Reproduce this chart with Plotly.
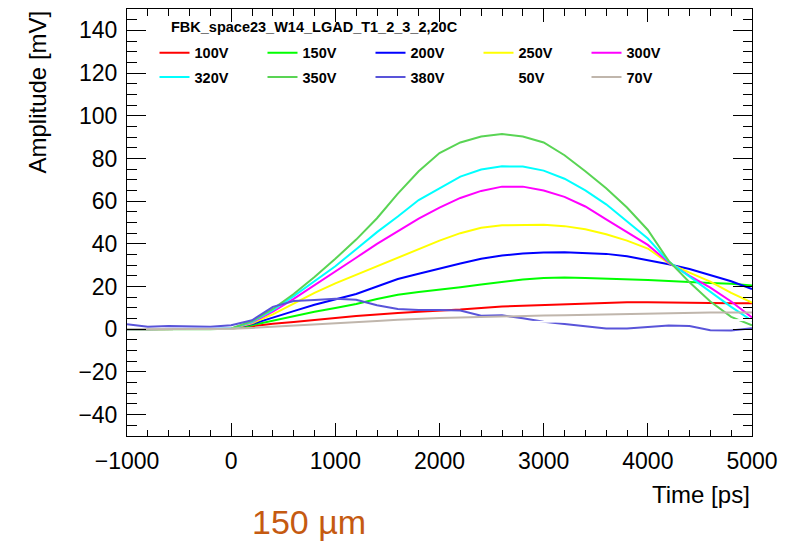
import plotly.graph_objects as go

# Sampling times of the averaged waveforms [ps]
time_ps = [-1000, -800, -600, -400, -200, 0, 200, 400, 600, 800, 1000,
           1200, 1400, 1600, 1800, 2000, 2200, 2400, 2600, 2800, 3000,
           3200, 3400, 3600, 3800, 4000, 4200, 4400, 4600, 4800, 5000]

# Amplitude [mV] for each bias voltage
amp_100v = [0, 0, 0, 0, 0, 0.2, 1.4, 2.6, 3.4, 4.2, 5.3, 6.2, 7.0, 7.6, 8.2, 8.6,
            9.2, 10.0, 10.7, 11.0, 11.3, 11.7, 12.1, 12.5, 12.6, 12.6, 12.6, 12.5,
            12.3, 12.2, 12.2]
amp_150v = [0, 0, 0, 0, 0, 0.2, 1.9, 4.0, 6.3, 8.2, 10.0, 11.8, 14.2, 16.2, 17.5,
            18.5, 19.7, 21.0, 22.3, 23.3, 24.0, 24.2, 24.0, 23.8, 23.4, 23.1, 22.6,
            22.0, 21.7, 21.3, 20.5]
amp_200v = [0, 0, 0, 0, 0, 0.2, 2.4, 5.6, 8.5, 11.5, 14.0, 16.5, 20.0, 23.5, 26.0,
            28.5, 30.8, 33.0, 34.5, 35.5, 36.0, 36.1, 35.8, 35.3, 34.2, 32.4, 30.4,
            28.2, 25.5, 22.5, 18.8]
amp_250v = [0, 0, 0, 0, 0, 0.2, 2.8, 7.0, 12.0, 17.0, 21.5, 25.5, 29.5, 33.5, 37.8,
            41.5, 45.0, 47.5, 48.7, 49.0, 49.0, 48.3, 46.8, 44.5, 41.5, 37.8, 31.0,
            26.5, 22.3, 17.0, 12.5]
amp_300v = [0, 0, 0, 0, 0, 0.3, 3.2, 8.3, 14.2, 20.5, 27.0, 33.5, 40.0, 46.0, 51.8,
            57.0, 61.5, 64.8, 66.8, 66.8, 65.0, 62.0, 57.5, 51.5, 45.5, 39.5, 31.3,
            25.0, 19.5, 13.0, 5.5]
amp_320v = [0, 0, 0, 0, 0, 0.3, 3.5, 9.0, 15.5, 22.5, 29.5, 37.5, 45.5, 52.8, 60.5,
            66.0, 71.5, 74.8, 76.3, 76.2, 74.3, 70.5, 65.0, 58.5, 50.5, 42.5, 31.7,
            24.5, 17.5, 10.5, 4.0]
amp_350v = [0, 0, 0, 0, 0, 0.4, 3.8, 9.5, 16.5, 24.5, 33.0, 42.0, 52.0, 63.5, 74.0,
            82.5, 87.5, 90.3, 91.4, 90.3, 87.5, 81.5, 74.0, 66.0, 57.0, 46.5, 32.0,
            22.0, 13.0, 5.8, 1.8]
amp_380v = [2.3, 1.2, 1.5, 1.5, 1.2, 1.9, 4.2, 10.5, 13.2, 13.7, 14.3, 13.8, 11.2,
            9.5, 9.0, 9.0, 8.8, 6.3, 6.5, 5.2, 3.5, 2.5, 1.5, 0.4, 0.3, 1.2, 1.8,
            1.5, -0.5, -0.6, 0.5]
amp_50v = [0, 0, 0, 0, 0, 0, 0.3, 0.7, 1.0, 1.2, 1.5, 1.8, 2.1, 2.4, 2.7, 2.9, 3.0,
           3.2, 3.3, 3.4, 3.5, 3.6, 3.7, 3.8, 3.9, 4.0, 4.1, 4.1, 4.2, 4.2, 4.3]
amp_70v = [0, 0, 0, 0, 0, 0.2, 0.6, 1.2, 1.7, 2.1, 2.7, 3.3, 3.9, 4.4, 5.0, 5.3,
           5.5, 5.8, 5.9, 6.1, 6.4, 6.6, 6.8, 7.1, 7.2, 7.3, 7.5, 7.7, 7.8, 7.8, 7.8]

labels = ["100V", "150V", "200V", "250V", "300V",
          "320V", "350V", "380V", "50V", "70V"]
series = [amp_100v, amp_150v, amp_200v, amp_250v, amp_300v,
          amp_320v, amp_350v, amp_380v, amp_50v, amp_70v]

title_text = "FBK_space23_W14_LGAD_T1_2_3_2,20C"
thickness_text = "150 µm"

# ROOT palette colours 2..11
colors = ["#ff0000", "#00ff00", "#0000ff", "#ffff00", "#ff00ff",
          "#00ffff", "#59d454", "#5954d9", "#ffffff", "#c0b6ac"]

FONT = "Liberation Sans, Arial, Helvetica, sans-serif"

fig = go.Figure()
for i, (name, vals, col) in enumerate(zip(labels, series, colors)):
    fig.add_trace(go.Scatter(
        x=time_ps, y=vals, mode="lines", name=name,
        line=dict(color=col, width=2),
        legend="legend" if i < 5 else "legend2",
        hoverinfo="skip",
    ))

axis_common = dict(
    ticks="inside", tickwidth=1, tickcolor="black",
    showline=True, linecolor="black", linewidth=1, mirror="ticks",
    showgrid=False, zeroline=False,
    tickfont=dict(family=FONT, size=23, color="black"),
    ticklabelstandoff=4,
)

legend_font = dict(family=FONT, size=14.5, color="black", weight="bold")
legend_common = dict(
    orientation="h", x=0.044, xanchor="left", yanchor="top",
    entrywidth=63, entrywidthmode="pixels",
    font=legend_font, bgcolor="rgba(0,0,0,0)", borderwidth=0,
    traceorder="normal",
)

fig.update_layout(
    width=807, height=542,
    margin=dict(l=127, r=55, t=9, b=106),
    paper_bgcolor="white", plot_bgcolor="white",
    showlegend=True,
    xaxis=dict(range=[-1000, 5000], tickmode="linear", tick0=0, dtick=1000,
               ticklen=13,
               minor=dict(ticks="inside", dtick=200, tick0=0, ticklen=6.5,
                          tickcolor="black", tickwidth=1, showgrid=False),
               **axis_common),
    yaxis=dict(range=[-50, 150], tickmode="linear", tick0=0, dtick=20,
               ticklen=19,
               minor=dict(ticks="inside", dtick=5, tick0=0, ticklen=9.5,
                          tickcolor="black", tickwidth=1, showgrid=False),
               **axis_common),
    legend=dict(y=0.935, **legend_common),
    legend2=dict(y=0.878, **legend_common),
    annotations=[
        dict(text=title_text, xref="paper", yref="paper", x=0.0672, y=0.9585,
             xanchor="left", yanchor="middle", showarrow=False,
             font=legend_font),
        dict(text="Time [ps]", xref="paper", yref="paper", x=1.0, y=-0.138,
             xanchor="right", yanchor="middle", showarrow=False,
             font=dict(family=FONT, size=24, color="black")),
        dict(text="Amplitude [mV]", xref="paper", yref="paper", x=-0.144, y=1.0,
             xanchor="center", yanchor="top", textangle=-90, showarrow=False,
             font=dict(family=FONT, size=24, color="black")),
        dict(text=thickness_text, xref="paper", yref="paper", x=0.291, y=-0.201,
             xanchor="center", yanchor="middle", showarrow=False,
             font=dict(family=FONT, size=34, color="#c55a11")),
    ],
)

fig.write_html("out.html")
